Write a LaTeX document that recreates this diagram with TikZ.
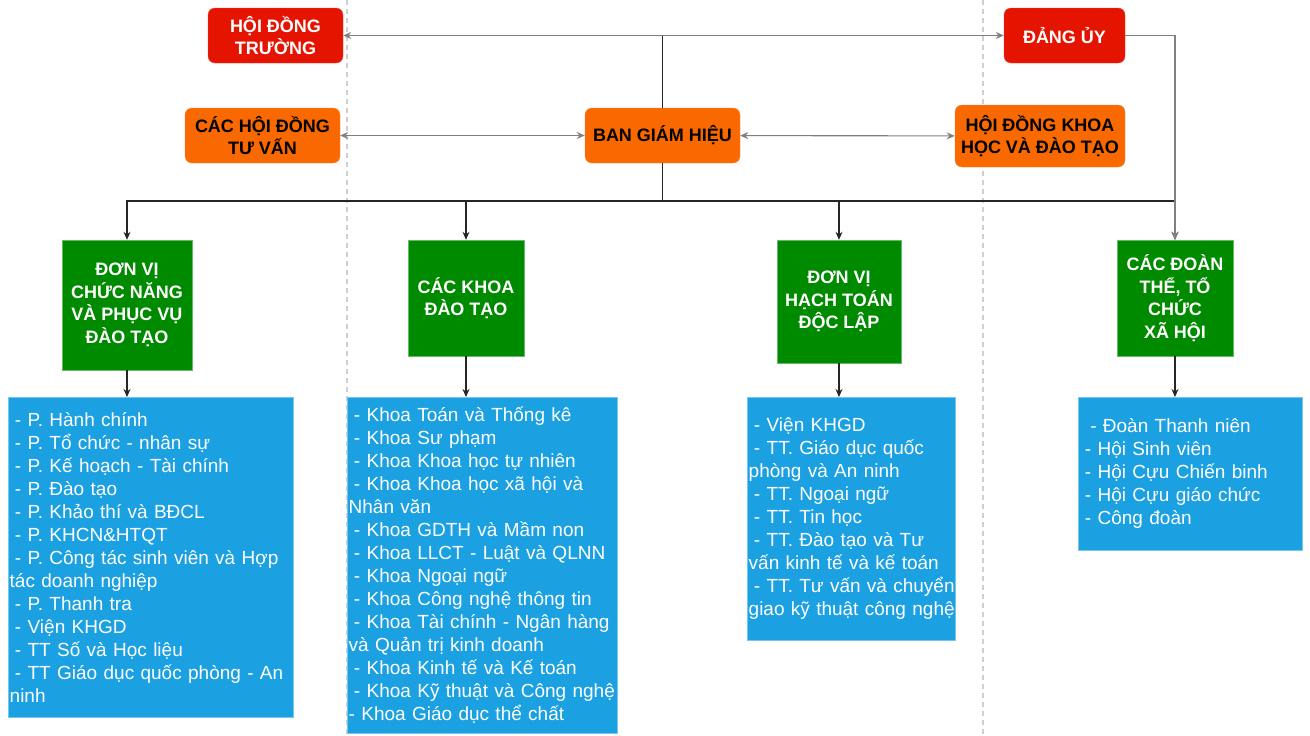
\documentclass[tikz,border=0pt]{standalone}
\usepackage{fontspec}
\setmainfont{Liberation Sans}
\usetikzlibrary{arrows.meta}
\definecolor{hdred}{HTML}{E51400}
\definecolor{bghorange}{HTML}{FA6800}
\definecolor{dvgreen}{HTML}{008A00}
\definecolor{dsblue}{HTML}{1BA1E2}
\definecolor{lngray}{HTML}{808080}
\definecolor{lanegray}{HTML}{CFCFCF}
\newcommand{\dsh}{\hspace*{0.278em}- }

\begin{document}
\begin{tikzpicture}[x=1pt,y=-1pt,
		topbox/.style={shape=rectangle,rounded corners=7pt,draw=#1!80!white,fill=#1,align=center,inner sep=2pt,font=\fontsize{18}{22.5}\selectfont\bfseries},
		dvbox/.style={shape=rectangle,draw=dvgreen!60!white,fill=dvgreen,text=white,align=center,inner sep=2pt,font=\fontsize{18}{22.5}\selectfont\bfseries},
		dsbox/.style={shape=rectangle,anchor=north west,draw=dsblue!60!white,fill=dsblue,text=white,align=left,inner xsep=1.5pt,inner ysep=2pt,font=\fontsize{19}{23}\selectfont},
		lnk/.style={draw=lngray,line width=1.1pt},
		trunk/.style={draw=black!85,line width=1.1pt},
		arrowend/.style={-{Stealth[length=8pt,width=7pt]}},
		dbltip/.style={{Stealth[length=8pt,width=7pt]}-{Stealth[length=8pt,width=7pt]}},
		lanesep/.style={draw=lanegray,line width=1.5pt,dash pattern=on 5pt off 4pt}]
		\fill[white] (0,0) rectangle (1310,736);
		\useasboundingbox (0,0) rectangle (1310,736);
		\draw[lanesep] (347,0) -- (347,736);
		\draw[lanesep] (983,0) -- (983,736);
		\begin{scope}
			\node(hdt)  [topbox=hdred,text=white,minimum width=135pt,minimum height=55pt] at (275.5,35.5) {HỘI ĐỒNG\\TRƯỜNG};
			\node(du)   [topbox=hdred,text=white,minimum width=121pt,minimum height=55pt] at (1064.5,35.5) {ĐẢNG ỦY};
			\node(cht)  [topbox=bghorange,minimum width=155pt,minimum height=55pt] at (262.5,135.5) {CÁC HỘI ĐỒNG\\TƯ VẤN};
			\node(bgh)  [topbox=bghorange,minimum width=155pt,minimum height=55pt] at (662.5,135.5) {BAN GIÁM HIỆU};
			\node(hdkh) [topbox=bghorange,minimum width=170pt,minimum height=62pt] at (1040,136) {HỘI ĐỒNG KHOA\\HỌC VÀ ĐÀO TẠO};
		\end{scope}
		\begin{scope}
			\node(g1) [dvbox,minimum width=130pt,minimum height=130pt] at (127,305) {ĐƠN VỊ\\CHỨC NĂNG\\VÀ PHỤC VỤ\\ĐÀO TẠO};
			\node(g2) [dvbox,minimum size=116pt] at (466,298) {CÁC KHOA\\ĐÀO TẠO};
			\node(g3) [dvbox,minimum width=124pt,minimum height=123pt] at (839,301.5) {ĐƠN VỊ\\HẠCH TOÁN\\ĐỘC LẬP};
			\node(g4) [dvbox,minimum size=116pt] at (1175,298) {CÁC ĐOÀN\\THỂ, TỔ\\CHỨC\\XÃ HỘI};
		\end{scope}
		\begin{scope}
			\node(b1) [dsbox,text width=282pt,minimum height=320pt] at (8,397) {\dsh P. Hành chính\\
				\dsh P. Tổ chức - nhân sự\\
				\dsh P. Kế hoạch - Tài chính\\
				\dsh P. Đào tạo\\
				\dsh P. Khảo thí và BĐCL\\
				\dsh P. KHCN\&HTQT\\
				\dsh P. Công tác sinh viên và Hợp\\
				tác doanh nghiệp\\
				\dsh P. Thanh tra\\
				\dsh Viện KHGD\\
				\dsh TT Số và Học liệu\\
				\dsh TT Giáo dục quốc phòng - An\\
				ninh};
			\node(b2) [dsbox,text width=267pt,minimum height=336pt] at (347,397) {\dsh Khoa Toán và Thống kê\\
				\dsh Khoa Sư phạm\\
				\dsh Khoa Khoa học tự nhiên\\
				\dsh Khoa Khoa học xã hội và\\
				Nhân văn\\
				\dsh Khoa GDTH và Mầm non\\
				\dsh Khoa LLCT - Luật và QLNN\\
				\dsh Khoa Ngoại ngữ\\
				\dsh Khoa Công nghệ thông tin\\
				\dsh Khoa Tài chính - Ngân hàng\\
				và Quản trị kinh doanh\\
				\dsh Khoa Kinh tế và Kế toán\\
				\mbox{\dsh Khoa Kỹ thuật và Công nghệ}\\
				- Khoa Giáo dục thể chất};
			\node(b3) [dsbox,text width=205pt,minimum height=243pt] at (747,397) {\dsh Viện KHGD\\
				\dsh TT. Giáo dục quốc\\
				phòng và An ninh\\
				\dsh TT. Ngoại ngữ\\
				\dsh TT. Tin học\\
				\dsh TT. Đào tạo và Tư\\
				\mbox{vấn kinh tế và kế toán}\\
				\mbox{\dsh TT. Tư vấn và chuyển}\\
				\mbox{giao kỹ thuật công nghệ}};
			\node(b4) [dsbox,text width=221pt,minimum height=153pt] at (1078,397) {\hspace*{0.556em}- Đoàn Thanh niên\\
				\dsh Hội Sinh viên\\
				\dsh Hội Cựu Chiến binh\\
				\dsh Hội Cựu giáo chức\\
				\dsh Công đoàn\\[12pt]};
		\end{scope}
		\draw[lnk,dbltip] (hdt) -- (du);
		\draw[trunk] (bgh.north) -- (bgh.north |- hdt.east);
		\coordinate (bus) at (662.5,201);
		\foreach \g in {g1,g2,g3,g4}
			\draw[trunk,arrowend] (bgh.south) -- (bus) -| (\g.north);
		\draw[lnk,arrowend] (du.east) -| (g4.north);
		\draw[lnk,dbltip] (cht) -- (bgh);
		\draw[lnk,dbltip] (bgh) -- (hdkh);
		\foreach \g/\b in {g1/b1,g2/b2,g3/b3,g4/b4}
			\draw[trunk,arrowend] (\g.south) -- (\g.south |- \b.north);
	\end{tikzpicture}
\end{document}
